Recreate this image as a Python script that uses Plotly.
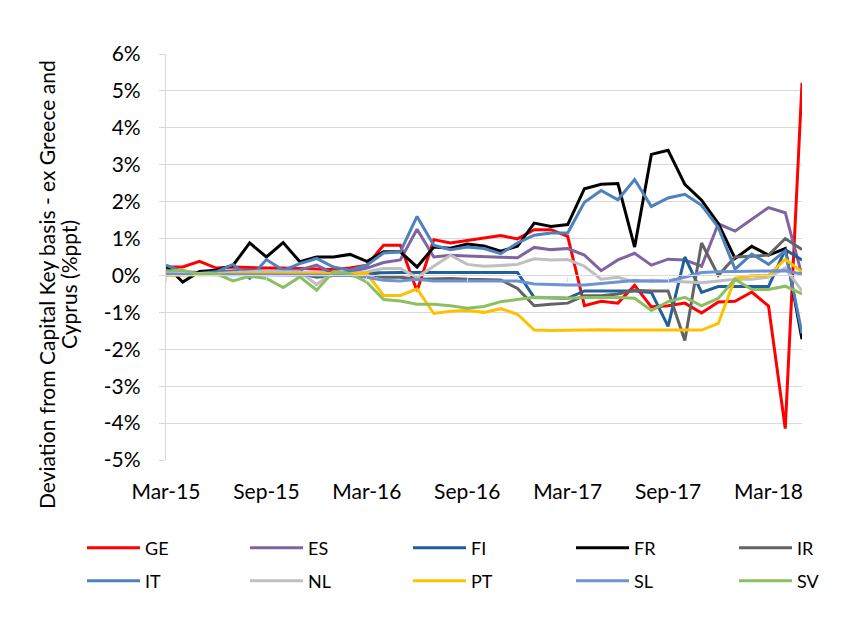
import plotly.graph_objects as go

months = ["Mar-15", "Apr-15", "May-15", "Jun-15", "Jul-15", "Aug-15", "Sep-15", "Oct-15", "Nov-15", "Dec-15",
          "Jan-16", "Feb-16", "Mar-16", "Apr-16", "May-16", "Jun-16", "Jul-16", "Aug-16", "Sep-16", "Oct-16",
          "Nov-16", "Dec-16", "Jan-17", "Feb-17", "Mar-17", "Apr-17", "May-17", "Jun-17", "Jul-17", "Aug-17",
          "Sep-17", "Oct-17", "Nov-17", "Dec-17", "Jan-18", "Feb-18", "Mar-18", "Apr-18", "May-18"]
x_tick_labels = ["Mar-15", "Sep-15", "Mar-16", "Sep-16", "Mar-17", "Sep-17", "Mar-18"]
y_tick_values = [-5, -4, -3, -2, -1, 0, 1, 2, 3, 4, 5, 6]
y_tick_labels = ["-5%", "-4%", "-3%", "-2%", "-1%", "0%", "1%", "2%", "3%", "4%", "5%", "6%"]

GE = [0.23, 0.23, 0.38, 0.20, 0.23, 0.21, 0.20, 0.20, 0.19, 0.17, 0.16, 0.20, 0.28,
      0.82, 0.82, -0.42, 0.97, 0.88, 0.95, 1.03, 1.08, 0.99, 1.24, 1.24, 1.06,
      -0.82, -0.70, -0.75, -0.27, -0.85, -0.82, -0.75, -1.02, -0.72, -0.70, -0.45, -0.83, -4.15, 5.22]
ES = [0.12, 0.10, 0.08, 0.10, 0.12, 0.15, 0.12, 0.12, 0.15, 0.28, 0.05, 0.10, 0.20,
      0.35, 0.42, 1.25, 0.50, 0.55, 0.53, 0.50, 0.49, 0.48, 0.76, 0.70, 0.73,
      0.55, 0.13, 0.42, 0.60, 0.28, 0.44, 0.42, 0.25, 1.40, 1.20, 1.52, 1.84, 1.70, 0.00]
FI = [0.20, 0.05, 0.05, 0.05, 0.05, 0.05, 0.05, 0.05, 0.05, 0.05, 0.05, 0.05, 0.05,
      0.07, 0.08, 0.08, 0.08, 0.10, 0.10, 0.10, 0.10, 0.08, -0.60, -0.62, -0.62,
      -0.42, -0.42, -0.42, -0.42, -0.46, -1.38, 0.50, -0.46, -0.30, -0.30, -0.30, -0.30, 0.70, 0.42]
FR = [0.27, -0.18, 0.11, 0.14, 0.27, 0.88, 0.50, 0.89, 0.37, 0.50, 0.50, 0.57, 0.38,
      0.64, 0.64, 0.23, 0.77, 0.74, 0.85, 0.80, 0.66, 0.79, 1.42, 1.33, 1.38,
      2.35, 2.47, 2.49, 0.77, 3.28, 3.39, 2.47, 2.04, 1.41, 0.46, 0.79, 0.55, 0.73, -1.73]
IR = [0.05, 0.05, 0.05, 0.08, 0.10, 0.12, 0.10, 0.10, 0.05, -0.05, 0.00, 0.02, 0.05,
      -0.05, -0.05, -0.10, -0.08, -0.08, -0.10, -0.10, -0.12, -0.35, -0.82, -0.78, -0.75,
      -0.55, -0.55, -0.50, -0.40, -0.42, -0.42, -1.76, 0.88, 0.00, 0.50, 0.52, 0.55, 1.00, 0.70]
IT = [0.28, 0.10, 0.05, 0.10, 0.30, -0.08, 0.43, 0.14, 0.32, 0.46, 0.23, 0.14, 0.28,
      0.61, 0.64, 1.60, 0.82, 0.70, 0.77, 0.73, 0.59, 0.88, 1.09, 1.15, 1.15,
      1.98, 2.30, 2.05, 2.60, 1.87, 2.10, 2.20, 1.90, 1.30, 0.17, 0.58, 0.30, 0.67, -1.57]
NL = [0.05, 0.05, 0.05, 0.05, 0.08, 0.10, 0.12, 0.10, 0.10, -0.25, 0.10, 0.05, 0.10,
      0.19, 0.19, -0.05, 0.25, 0.55, 0.30, 0.25, 0.27, 0.30, 0.45, 0.42, 0.43,
      0.25, -0.10, -0.05, -0.18, -0.13, -0.15, -0.18, -0.20, -0.15, -0.10, -0.10, -0.05, 0.20, -0.42]
PT = [0.00, 0.00, 0.02, 0.03, 0.05, 0.05, 0.05, 0.05, 0.05, 0.05, 0.05, 0.03, 0.05,
      -0.54, -0.54, -0.36, -1.03, -0.97, -0.95, -1.00, -0.90, -1.05, -1.48, -1.49, -1.48,
      -1.48, -1.47, -1.48, -1.47, -1.48, -1.48, -1.48, -1.48, -1.30, -0.08, 0.00, 0.00, 0.44, 0.10]
SL = [0.03, 0.02, 0.02, 0.02, 0.02, 0.02, 0.02, 0.02, 0.02, 0.02, 0.02, 0.00, -0.05,
      -0.13, -0.15, -0.10, -0.15, -0.15, -0.15, -0.15, -0.15, -0.15, -0.23, -0.25, -0.26,
      -0.26, -0.22, -0.16, -0.14, -0.16, -0.15, -0.05, 0.08, 0.10, 0.10, 0.11, 0.12, 0.13, 0.04]
SV = [0.12, 0.14, 0.03, 0.05, -0.15, -0.02, -0.08, -0.33, -0.04, -0.40, 0.10, 0.05, -0.18,
      -0.65, -0.69, -0.78, -0.78, -0.82, -0.89, -0.84, -0.71, -0.65, -0.59, -0.60, -0.62,
      -0.60, -0.59, -0.60, -0.62, -0.95, -0.71, -0.59, -0.82, -0.62, -0.10, -0.38, -0.38, -0.29, -0.50]

series_names = ["GE", "ES", "FI", "FR", "IR", "IT", "NL", "PT", "SL", "SV"]
series_values = [GE, ES, FI, FR, IR, IT, NL, PT, SL, SV]
series_colors = ["#FF0000", "#8064A2", "#215F9A", "#000000", "#636363",
                 "#4F81BD", "#BFBFBF", "#FFC000", "#6F93D2", "#8CBF62"]

FONT = "Lato"
fig = go.Figure()

for k, (name, vals, col) in enumerate(zip(series_names, series_values, series_colors)):
    fig.add_trace(go.Scatter(
        x=months, y=vals, name=name, mode="lines",
        line=dict(color=col, width=3),
        legend="legend" if k < 5 else "legend2",
        legendwidth=95 if k % 5 < 4 else 30,
        hoverinfo="skip",
    ))

# invisible helper trace so the secondary x axis (axis line at 0%) is drawn
fig.add_trace(go.Scatter(x=months, y=[None] * len(months), xaxis="x2", mode="lines",
                         showlegend=False, hoverinfo="skip"))

# The page body adds an 8px margin, so the figure is 16px smaller and shifted.
PLOT_L, PLOT_T, PLOT_W, PLOT_H = 166, 54, 636, 406   # plot area in page pixels
OFF = 8
W, H = 862 - 2 * OFF, 618 - 2 * OFF


def px_x(page_x):
    return (page_x - PLOT_L) / PLOT_W


def px_y(page_y):
    return (PLOT_T + PLOT_H - page_y) / PLOT_H


grid_col = "#D9D9D9"
fig.update_layout(
    width=W, height=H,
    margin=dict(l=PLOT_L - OFF, r=W - (PLOT_L - OFF) - PLOT_W, t=PLOT_T - OFF,
                b=H - (PLOT_T - OFF) - PLOT_H, autoexpand=False),
    paper_bgcolor="white", plot_bgcolor="white",
    font=dict(family=FONT, color="#000000", size=21),
    showlegend=True,
    xaxis=dict(type="category", range=[0, len(months) - 1], categoryorder="array", categoryarray=months,
               tickmode="array", tickvals=x_tick_labels, ticktext=x_tick_labels, automargin=False,
               showgrid=False, zeroline=False, showline=False, ticks="",
               ticklabelstandoff=17, tickfont=dict(family=FONT, size=21, color="#000000")),
    xaxis2=dict(type="category", overlaying="x", matches="x", anchor="free", position=5 / 11,
                range=[0, len(months) - 1], categoryorder="array", categoryarray=months, automargin=False,
                tickmode="array", tickvals=x_tick_labels, showticklabels=False,
                showgrid=False, zeroline=False, showline=True, linecolor=grid_col, linewidth=1.3,
                ticks="outside", ticklen=5, tickcolor=grid_col, tickwidth=1.3),
    yaxis=dict(range=[-5, 6], tickmode="array", tickvals=y_tick_values, ticktext=y_tick_labels,
               automargin=False,
               showgrid=True, gridcolor=grid_col, gridwidth=1.3, zeroline=False,
               showline=True, linecolor=grid_col, linewidth=1.3,
               ticks="outside", ticklen=6, tickcolor=grid_col, tickwidth=1.3,
               ticklabelstandoff=14, tickfont=dict(family=FONT, size=21, color="#000000")),
    legend=dict(orientation="h", x=px_x(82), xanchor="left", y=px_y(548), yanchor="middle",
                itemwidth=53, font=dict(family=FONT, size=18, color="#000000"),
                bgcolor="rgba(0,0,0,0)", borderwidth=0, itemclick=False, itemdoubleclick=False),
    legend2=dict(orientation="h", x=px_x(82), xanchor="left", y=px_y(581), yanchor="middle",
                 itemwidth=53, font=dict(family=FONT, size=18, color="#000000"),
                 bgcolor="rgba(0,0,0,0)", borderwidth=0, itemclick=False, itemdoubleclick=False),
    annotations=[
        dict(text="Deviation from Capital Key basis - ex Greece and", textangle=-90,
             xref="paper", yref="paper", x=px_x(46), y=px_y(285),
             xanchor="center", yanchor="middle", showarrow=False,
             font=dict(family=FONT, size=21, color="#000000")),
        dict(text="Cyprus (%ppt)", textangle=-90,
             xref="paper", yref="paper", x=px_x(68), y=px_y(285),
             xanchor="center", yanchor="middle", showarrow=False,
             font=dict(family=FONT, size=21, color="#000000")),
    ],
)

fig.write_html("out.html")
